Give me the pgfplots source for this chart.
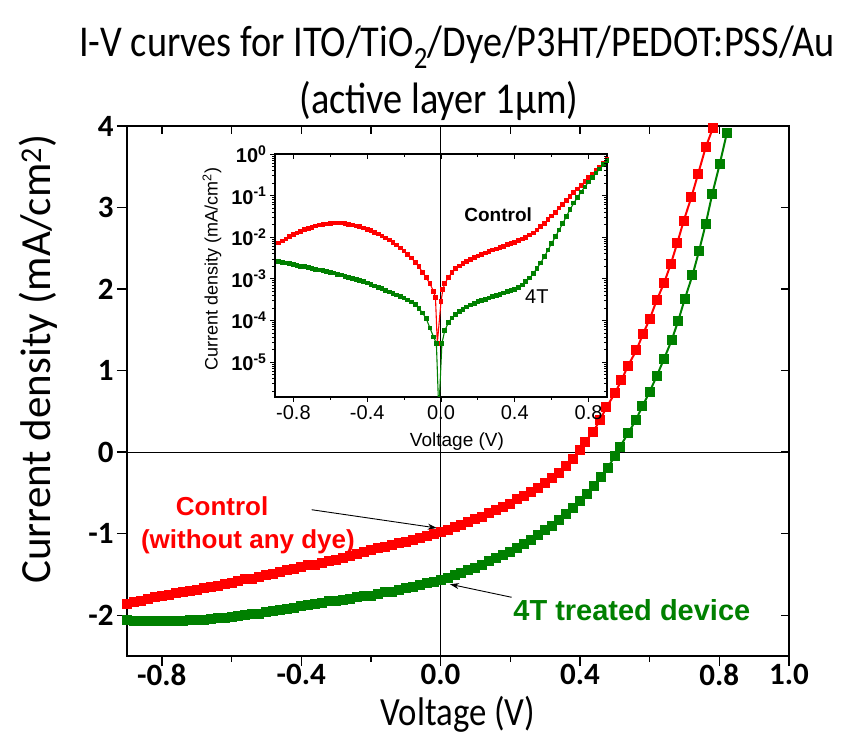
\documentclass[border=0pt]{standalone}
\usepackage{fontspec}
\setmainfont{Carlito}
\newfontfamily\titlefont{Carlito}[FakeStretch=0.87]
\newfontfamily\arial{Liberation Sans}
\usepackage{pgfplots}
\usepackage{pgfplotstable}
\usetikzlibrary{arrows.meta}
\pgfplotsset{compat=1.18}
\definecolor{myred}{RGB}{255,0,0}
\definecolor{mygreen}{RGB}{0,128,0}

\pgfplotstableread{
V J
-0.90 -1.86
-0.88 -1.84
-0.86 -1.82
-0.84 -1.80
-0.82 -1.78
-0.80 -1.76
-0.78 -1.75
-0.76 -1.73
-0.74 -1.72
-0.72 -1.70
-0.70 -1.69
-0.68 -1.67
-0.66 -1.65
-0.64 -1.64
-0.62 -1.62
-0.60 -1.60
-0.58 -1.58
-0.56 -1.56
-0.54 -1.55
-0.52 -1.53
-0.50 -1.51
-0.48 -1.49
-0.46 -1.47
-0.44 -1.45
-0.42 -1.43
-0.40 -1.41
-0.38 -1.39
-0.36 -1.38
-0.34 -1.36
-0.32 -1.34
-0.30 -1.32
-0.28 -1.30
-0.26 -1.27
-0.24 -1.25
-0.22 -1.22
-0.20 -1.20
-0.18 -1.18
-0.16 -1.16
-0.14 -1.14
-0.12 -1.12
-0.10 -1.10
-0.08 -1.08
-0.06 -1.05
-0.04 -1.03
-0.02 -1.00
0.00 -0.98
0.02 -0.95
0.04 -0.92
0.06 -0.89
0.08 -0.86
0.10 -0.82
0.12 -0.79
0.14 -0.75
0.16 -0.71
0.18 -0.67
0.20 -0.63
0.22 -0.58
0.24 -0.54
0.26 -0.49
0.28 -0.44
0.30 -0.38
0.32 -0.32
0.34 -0.25
0.36 -0.17
0.38 -0.08
0.40 0.03
0.414 0.12
0.438 0.25
0.457 0.39
0.476 0.55
0.500 0.72
0.519 0.88
0.538 1.06
0.562 1.25
0.581 1.45
0.600 1.63
0.620 1.86
0.641 2.07
0.661 2.31
0.679 2.56
0.698 2.84
0.720 3.13
0.739 3.41
0.761 3.74
0.782 3.98
}\maindatared

\pgfplotstableread{
V J
-0.90 -2.06
-0.88 -2.07
-0.86 -2.07
-0.84 -2.07
-0.82 -2.07
-0.80 -2.07
-0.78 -2.07
-0.76 -2.07
-0.74 -2.07
-0.72 -2.06
-0.70 -2.06
-0.68 -2.06
-0.66 -2.05
-0.64 -2.04
-0.62 -2.03
-0.60 -2.02
-0.58 -2.01
-0.56 -2.00
-0.54 -1.99
-0.52 -1.98
-0.50 -1.96
-0.48 -1.95
-0.46 -1.93
-0.44 -1.92
-0.42 -1.91
-0.40 -1.89
-0.38 -1.88
-0.36 -1.86
-0.34 -1.85
-0.32 -1.83
-0.30 -1.82
-0.28 -1.81
-0.26 -1.80
-0.24 -1.78
-0.22 -1.77
-0.20 -1.76
-0.18 -1.74
-0.16 -1.72
-0.14 -1.71
-0.12 -1.69
-0.10 -1.67
-0.08 -1.65
-0.06 -1.63
-0.04 -1.61
-0.02 -1.59
0.00 -1.57
0.02 -1.54
0.04 -1.51
0.06 -1.48
0.08 -1.45
0.10 -1.42
0.12 -1.38
0.14 -1.34
0.16 -1.30
0.18 -1.26
0.20 -1.22
0.22 -1.18
0.24 -1.13
0.26 -1.08
0.28 -1.02
0.30 -0.96
0.32 -0.90
0.34 -0.83
0.36 -0.76
0.38 -0.69
0.40 -0.60
0.42 -0.51
0.44 -0.41
0.46 -0.31
0.48 -0.19
0.50 -0.05
0.514 0.06
0.538 0.23
0.560 0.39
0.579 0.56
0.600 0.74
0.620 0.93
0.641 1.14
0.663 1.37
0.682 1.61
0.701 1.88
0.723 2.17
0.742 2.47
0.761 2.80
0.780 3.17
0.801 3.53
0.822 3.92
}\maindatagreen

\pgfplotstableread{
V L
-0.88 -2.14
-0.86 -2.09
-0.84 -2.04
-0.82 -1.99
-0.80 -1.94
-0.78 -1.90
-0.76 -1.86
-0.74 -1.82
-0.72 -1.79
-0.70 -1.76
-0.68 -1.73
-0.66 -1.71
-0.64 -1.69
-0.62 -1.68
-0.60 -1.67
-0.58 -1.66
-0.56 -1.66
-0.54 -1.66
-0.52 -1.67
-0.50 -1.69
-0.48 -1.71
-0.46 -1.73
-0.44 -1.75
-0.42 -1.78
-0.40 -1.81
-0.38 -1.84
-0.36 -1.88
-0.34 -1.92
-0.32 -1.97
-0.30 -2.02
-0.28 -2.07
-0.26 -2.13
-0.24 -2.19
-0.22 -2.26
-0.20 -2.33
-0.18 -2.41
-0.16 -2.50
-0.14 -2.60
-0.12 -2.71
-0.10 -2.84
-0.08 -2.97
-0.06 -3.12
-0.04 -3.30
-0.03 -3.45
-0.02 -4.55
0.00 -3.55
0.01 -3.26
0.02 -3.12
0.04 -2.96
0.06 -2.85
0.08 -2.76
0.10 -2.69
0.12 -2.63
0.14 -2.58
0.16 -2.53
0.18 -2.49
0.20 -2.45
0.22 -2.42
0.24 -2.38
0.26 -2.35
0.28 -2.31
0.30 -2.28
0.32 -2.25
0.34 -2.22
0.36 -2.18
0.38 -2.15
0.40 -2.12
0.42 -2.08
0.44 -2.04
0.46 -2.00
0.48 -1.95
0.50 -1.90
0.52 -1.83
0.54 -1.75
0.56 -1.67
0.58 -1.58
0.60 -1.49
0.62 -1.40
0.64 -1.30
0.66 -1.21
0.68 -1.11
0.70 -1.02
0.72 -0.93
0.74 -0.84
0.76 -0.75
0.78 -0.66
0.80 -0.57
0.82 -0.48
0.84 -0.40
0.86 -0.31
0.88 -0.23
0.90 -0.14
}\insetred

\pgfplotstableread{
V L
-0.88 -2.58
-0.86 -2.60
-0.84 -2.62
-0.82 -2.64
-0.80 -2.66
-0.78 -2.68
-0.76 -2.70
-0.74 -2.71
-0.72 -2.73
-0.70 -2.75
-0.68 -2.77
-0.66 -2.79
-0.64 -2.80
-0.62 -2.82
-0.60 -2.84
-0.58 -2.86
-0.56 -2.89
-0.54 -2.91
-0.52 -2.94
-0.50 -2.96
-0.48 -2.99
-0.46 -3.02
-0.44 -3.04
-0.42 -3.07
-0.40 -3.10
-0.38 -3.14
-0.36 -3.17
-0.34 -3.21
-0.32 -3.24
-0.30 -3.28
-0.28 -3.32
-0.26 -3.35
-0.24 -3.39
-0.22 -3.42
-0.20 -3.46
-0.18 -3.51
-0.16 -3.56
-0.14 -3.62
-0.12 -3.71
-0.10 -3.82
-0.08 -3.96
-0.06 -4.18
-0.04 -4.40
-0.025 -4.55
-0.012 -6.20
0.005 -4.55
0.02 -4.25
0.04 -4.05
0.06 -3.94
0.08 -3.86
0.10 -3.79
0.12 -3.73
0.14 -3.68
0.16 -3.63
0.18 -3.59
0.20 -3.55
0.22 -3.52
0.24 -3.49
0.26 -3.46
0.28 -3.43
0.30 -3.40
0.32 -3.37
0.34 -3.34
0.36 -3.31
0.38 -3.28
0.40 -3.25
0.42 -3.21
0.44 -3.15
0.46 -3.07
0.48 -2.98
0.50 -2.88
0.52 -2.75
0.54 -2.62
0.56 -2.47
0.58 -2.31
0.60 -2.15
0.62 -1.99
0.64 -1.83
0.66 -1.67
0.68 -1.50
0.70 -1.33
0.72 -1.18
0.74 -1.04
0.76 -0.91
0.78 -0.79
0.80 -0.67
0.82 -0.56
0.84 -0.46
0.86 -0.36
0.88 -0.26
0.90 -0.16
}\insetgreen

\begin{document}
\begin{tikzpicture}
\useasboundingbox (-127bp,-81bp) rectangle (717bp,656bp);
% main axis
\begin{axis}[
  name=main, at={(0,0)}, anchor=south west,
  scale only axis, width=662bp, height=530bp,
  xmin=-0.9, xmax=1.0, ymin=-2.5, ymax=4,
  axis line style={line width=1.8bp},
  xtick={-0.8,-0.4,0,0.4,0.8,1.0},
  xticklabels={-0.8,-0.4,0.0,0.4,0.8,1.0},
  minor xtick={-0.6,-0.2,0.2,0.6},
  ytick={-2,-1,0,1,2,3,4},
  yticklabels={-2,-1,0,1,2,3,4},
  tick align=outside, xtick pos=bottom, ytick pos=left,
  major tick length=10bp, minor tick length=6bp,
  every tick/.style={line width=1.4bp, black},
  ticklabel style={font=\fontsize{31bp}{36bp}\selectfont\bfseries},
  xticklabel style={inner sep=1bp, yshift=3bp},
  xlabel={Voltage (V)},
  xlabel style={font=\titlefont\fontsize{40bp}{46bp}\selectfont, at={(axis description cs:0.50,-0.1302)}, anchor=base, inner sep=0pt},
  ylabel={Current density (mA/cm\textsuperscript{2})},
  ylabel style={font=\fontsize{43bp}{50bp}\selectfont, at={(axis description cs:-0.134,0.56)}, anchor=center, rotate=0},
  clip=true,
]
\draw[line width=1.3bp] (axis cs:-0.9,0) -- (axis cs:1.0,0);
\draw[line width=1.3bp] (axis cs:0,-2.5) -- (axis cs:0,4);
\addplot[color=myred, line width=2bp, mark=square*, mark size=4bp, mark options={solid}] table[x=V,y=J]{\maindatared};
\addplot[color=mygreen, line width=2bp, mark=square*, mark size=4bp, mark options={solid}] table[x=V,y=J]{\maindatagreen};
\draw[-{Stealth[length=9bp,width=6bp]}, line width=0.9bp] (axis cs:-0.370,-0.706) -- (axis cs:-0.011,-0.93);
\draw[-{Stealth[length=9bp,width=6bp]}, line width=0.9bp] (axis cs:0.204,-1.78) -- (axis cs:0.027,-1.62);
\node[text=myred, font=\arial\bfseries\fontsize{26bp}{30bp}\selectfont, anchor=base] at (axis cs:-0.627,-0.776) {Control};
\node[text=myred, font=\arial\bfseries\fontsize{26bp}{30bp}\selectfont, anchor=base] at (axis cs:-0.553,-1.18) {(without any dye)};
\node[text=mygreen, font=\arial\bfseries\fontsize{29bp}{34bp}\selectfont, anchor=base] at (axis cs:0.549,-2.07) {4T treated device};
\end{axis}
% mirrored inner ticks on top and right
\begin{axis}[
  at={(0,0)}, anchor=south west,
  scale only axis, width=662bp, height=530bp,
  xmin=-0.9, xmax=1.0, ymin=-2.5, ymax=4,
  axis line style={draw=none},
  xtick={-0.8,-0.6,-0.4,-0.2,0,0.2,0.4,0.6,0.8}, xticklabels={},
  ytick={-2,-1,0,1,2,3,4}, yticklabels={},
  tick align=inside, xtick pos=top, ytick pos=right,
  major tick length=8bp,
  every tick/.style={line width=1.4bp, black},
]
\end{axis}
% inset
\begin{axis}[
  at={(148bp,259bp)}, anchor=south west,
  scale only axis, width=332bp, height=243bp,
  xmin=-0.9, xmax=0.9, ymin=-5.84, ymax=0,
  axis line style={line width=1.2bp},
  xtick={-0.8,-0.4,0,0.4,0.8},
  xticklabels={-0.8,-0.4,0.0,0.4,0.8},
  minor xtick={-0.6,-0.2,0.2,0.6},
  ytick={-5,-4,-3,-2,-1,0},
  yticklabels={10\textsuperscript{-5},10\textsuperscript{-4},10\textsuperscript{-3},10\textsuperscript{-2},10\textsuperscript{-1},10\textsuperscript{0}},
  minor ytick={-5.699,-5.523,-5.398,-5.301,-5.222,-5.155,-5.097,-5.046,
    -4.699,-4.523,-4.398,-4.301,-4.222,-4.155,-4.097,-4.046,
    -3.699,-3.523,-3.398,-3.301,-3.222,-3.155,-3.097,-3.046,
    -2.699,-2.523,-2.398,-2.301,-2.222,-2.155,-2.097,-2.046,
    -1.699,-1.523,-1.398,-1.301,-1.222,-1.155,-1.097,-1.046,
    -0.699,-0.523,-0.398,-0.301,-0.222,-0.155,-0.097,-0.046},
  tick align=outside, xtick pos=bottom, ytick pos=left,
  major tick length=5bp, minor tick length=3bp,
  every tick/.style={line width=0.8bp, black},
  xticklabel style={font=\arial\fontsize{20bp}{23bp}\selectfont},
  yticklabel style={font=\arial\bfseries\fontsize{20bp}{23bp}\selectfont},
  xlabel={Voltage (V)},
  xlabel style={font=\arial\fontsize{19bp}{22bp}\selectfont, at={(axis description cs:0.548,-0.205)}, anchor=base},
  ylabel={Current density (mA/cm\textsuperscript{2})},
  ylabel style={font=\arial\fontsize{18bp}{21bp}\selectfont, at={(axis description cs:-0.19,0.527)}, anchor=center},
  clip=true,
]
\addplot[color=myred, line width=1.1bp, mark=square*, mark size=1.8bp, mark options={solid}] table[x=V,y=L]{\insetred};
\addplot[color=mygreen, line width=1.1bp, mark=square*, mark size=1.8bp, mark options={solid}] table[x=V,y=L]{\insetgreen};
\node[font=\arial\bfseries\fontsize{19bp}{22bp}\selectfont] at (axis cs:0.31,-1.46) {Control};
\node[font=\arial\fontsize{20bp}{23bp}\selectfont] at (axis cs:0.52,-3.43) {4T};
\end{axis}
% inset top/right inner ticks
\begin{axis}[
  at={(148bp,259bp)}, anchor=south west,
  scale only axis, width=332bp, height=243bp,
  xmin=-0.9, xmax=0.9, ymin=-5.84, ymax=0,
  axis line style={draw=none},
  xtick={-0.8,-0.4,0,0.4,0.8}, xticklabels={},
  minor xtick={-0.6,-0.2,0.2,0.6},
  ytick={-5,-4,-3,-2,-1,0}, yticklabels={},
  minor ytick={-5.699,-5.523,-5.398,-5.301,-5.222,-5.155,-5.097,-5.046,
    -4.699,-4.523,-4.398,-4.301,-4.222,-4.155,-4.097,-4.046,
    -3.699,-3.523,-3.398,-3.301,-3.222,-3.155,-3.097,-3.046,
    -2.699,-2.523,-2.398,-2.301,-2.222,-2.155,-2.097,-2.046,
    -1.699,-1.523,-1.398,-1.301,-1.222,-1.155,-1.097,-1.046,
    -0.699,-0.523,-0.398,-0.301,-0.222,-0.155,-0.097,-0.046},
  tick align=inside, xtick pos=top, ytick pos=right,
  major tick length=5bp, minor tick length=3bp,
  every tick/.style={line width=0.8bp, black},
]
\end{axis}
% title
\node[font=\titlefont\fontsize{44bp}{50bp}\selectfont, anchor=base] at (330bp,599bp) {I-V curves for ITO/TiO\textsubscript{2}/Dye/P3HT/PEDOT:PSS/Au};
\node[font=\titlefont\fontsize{44bp}{50bp}\selectfont, anchor=base] at (312bp,542bp) {(active layer 1μm)};
\end{tikzpicture}
\end{document}
